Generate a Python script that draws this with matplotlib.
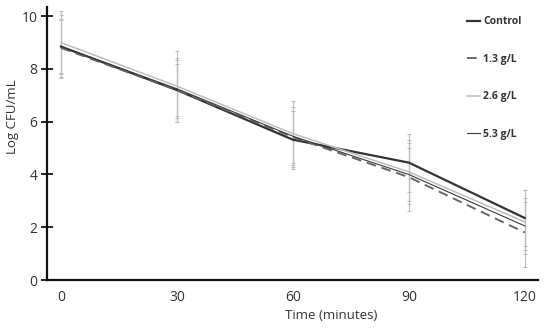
import matplotlib.pyplot as plt
import numpy as np

plt.rcParams["font.family"] = ["Open Sans", "DejaVu Sans"]

time_min = [0, 30, 60, 90, 120]
series_names = ["Control", "1.3 g/L", "2.6 g/L", "5.3 g/L"]
log_cfu = {
    "Control": [8.85, 7.2, 5.32, 4.45, 2.35],
    "1.3 g/L": [8.8, 7.2, 5.42, 3.9, 1.8],
    "2.6 g/L": [9.0, 7.35, 5.55, 4.1, 2.2],
    "5.3 g/L": [8.85, 7.25, 5.45, 4.0, 2.05],
}
log_cfu_sd = {
    "Control": [1.2, 1.2, 1.1, 1.1, 1.05],
    "1.3 g/L": [1.1, 1.0, 1.0, 1.3, 1.3],
    "2.6 g/L": [1.2, 1.35, 1.25, 1.2, 1.2],
    "5.3 g/L": [1.0, 1.1, 1.1, 1.0, 0.9],
}

styles = {
    "Control": dict(color="#333333", lw=1.6, ls="-"),
    "1.3 g/L": dict(color="#666666", lw=1.4, ls=(0, (5, 3))),
    "2.6 g/L": dict(color="#bdbdbd", lw=1.1, ls="-"),
    "5.3 g/L": dict(color="#3a3a3a", lw=0.8, ls="-"),
}

fig = plt.figure(figsize=(5.5, 3.28), dpi=100)
ax = fig.add_axes([0.0855, 0.1463, 0.978 - 0.0855, 0.9787 - 0.1463])

x = np.array(time_min)
for name in series_names:
    ax.errorbar(x, log_cfu[name], yerr=log_cfu_sd[name], fmt="none",
                ecolor="#bcbcbc", elinewidth=0.8, capsize=1.5,
                capthick=0.8, zorder=1)
for name in series_names:
    ax.plot(x, log_cfu[name], label=name, zorder=2, **styles[name])

ax.set_xlim(-3.6, 123.4)
ax.set_ylim(0, 10.35)
ax.set_xticks(time_min)
ax.set_yticks([0, 2, 4, 6, 8, 10])
ax.tick_params(axis="x", length=0, pad=7, labelsize=10, labelcolor="#333333")
ax.tick_params(axis="y", direction="inout", length=8, width=1.2,
               labelsize=10, labelcolor="#333333", pad=3)
for side in ["top", "right"]:
    ax.spines[side].set_visible(False)
for side in ["left", "bottom"]:
    ax.spines[side].set_linewidth(1.6)
    ax.spines[side].set_color("#111111")

ax.set_xlabel("Time (minutes)", fontsize=9.5, color="#333333")
ax.set_ylabel("Log CFU/mL", fontsize=9.5, color="#333333")
ax.xaxis.set_label_coords(0.578, -0.105)
ax.yaxis.set_label_coords(-0.058, 0.6)

leg = ax.legend(loc="upper right", bbox_to_anchor=(0.986, 1.0), frameon=False,
                fontsize=7.5, handlelength=1.3, handletextpad=0.3,
                labelspacing=2.55)
for t in leg.get_texts():
    t.set_color("#333333")
    t.set_fontweight("bold")

fig.savefig("out.png", dpi=100)
